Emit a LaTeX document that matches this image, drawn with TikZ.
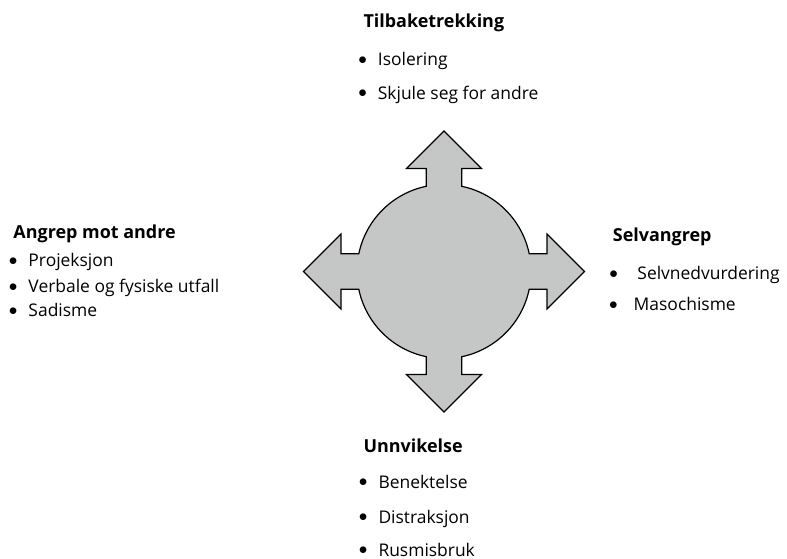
\documentclass[tikz,border=0pt]{standalone}
\usepackage{fontspec}
\setmainfont{Open Sans}
\usepackage{xcolor}
\usepackage{tikz}
\usetikzlibrary{positioning}

\definecolor{hubgray}{RGB}{197,199,198}
\newcommand{\bul}[1][11]{\llap{\raisebox{1.5bp}{$\bullet$}\hskip #1bp}}

\begin{document}
\begin{tikzpicture}[x=1bp, y=1bp,
    every node/.style={font=\fontsize{17.5}{21}\selectfont, inner sep=0pt, anchor=base west},
    head/.style={font=\fontsize{18}{21}\selectfont\bfseries}]
    \useasboundingbox (0,0) rectangle (787,559);

    % four-way arrow round the circle
    \begin{scope}[shift={(444,287.5)}]
    \draw[fill=hubgray, line width=1.2bp, line join=miter]
        (140.5,0) -- (103,37.5) -- (103,17.8) -- (85.2,17.8)
        arc[start angle=11.8, end angle=78.2, radius=87]
        -- (17.8,103) -- (37.5,103) -- (0,140.5) -- (-37.5,103) -- (-17.8,103) -- (-17.8,85.2)
        arc[start angle=101.8, end angle=168.2, radius=87]
        -- (-103,17.8) -- (-103,37.5) -- (-140.5,0) -- (-103,-37.5) -- (-103,-17.8) -- (-85.2,-17.8)
        arc[start angle=191.8, end angle=258.2, radius=87]
        -- (-17.8,-103) -- (-37.5,-103) -- (0,-140.5) -- (37.5,-103) -- (17.8,-103) -- (17.8,-85.2)
        arc[start angle=281.8, end angle=348.2, radius=87]
        -- (103,-17.8) -- (103,-37.5) -- cycle;
    \end{scope}

    % top
    \node[head] (tilbake) at (363.3,531) {Tilbaketrekking};
    \node (isol) at (377.7,493) {\bul Isolering};
    \node (skjule) at (377.7,459.7) {\bul Skjule seg for andre};

    % left
    \node[head] (angrep) at (13.3,320.7) {Angrep mot andre};
    \node (proj) at (28.3,292.3) {\bul Projeksjon};
    \node (verbal) at (28.3,266.3) {\bul Verbale og fysiske utfall};
    \node (sadisme) at (28.3,242.3) {\bul Sadisme};

    % right
    \node[head] (selv) at (612.7,317.3) {Selvangrep};
    \node (nedvurd) at (632.7,279) {\bul[15] Selvnedvurdering};
    \node (maso) at (629,248.3) {\bul[11.5] Masochisme};

    % bottom
    \node[head] (unnvik) at (363.3,106.7) {Unnvikelse};
    \node (benekt) at (378.3,70.7) {\bul Benektelse};
    \node (distr) at (378.3,35.7) {\bul Distraksjon};
    \node (rus) at (378.3,2.5) {\bul Rusmisbruk};
\end{tikzpicture}
\end{document}
